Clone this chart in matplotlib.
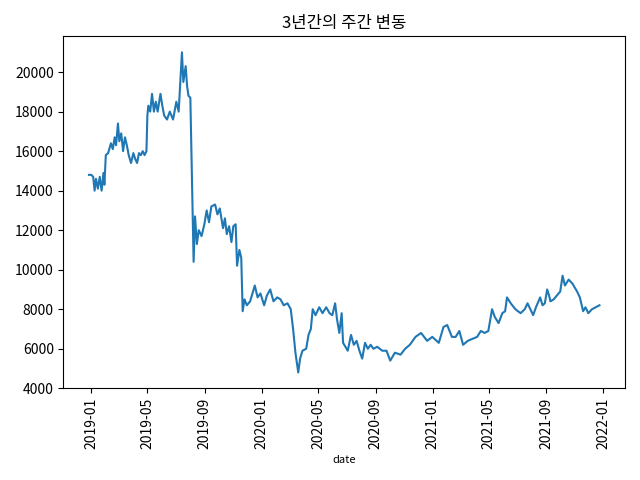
import matplotlib
matplotlib.use("Agg")
import matplotlib.pyplot as plt
import matplotlib.dates as mdates
import pandas as pd

plt.rcParams['font.family'] = ['Noto Sans CJK KR', 'DejaVu Sans']
plt.rcParams['axes.unicode_minus'] = False

# days since 2019-01-01 and closing price
day_offsets = [-5, 0, 4, 7, 10, 14, 18, 22, 26, 28, 31, 36, 42, 46, 50, 53, 57, 60, 64, 68, 72, 76, 80, 85, 90, 94, 98, 102, 106, 110, 114, 118,
120, 122, 126, 130, 134, 138, 142, 148, 152, 156, 162, 168, 175, 182, 187, 194, 197, 202, 205, 208, 212, 219, 222, 226, 230, 236, 242, 247, 252, 257, 265, 270, 275, 282, 286, 290, 295, 300, 304, 309, 312, 317, 321, 324, 328,
333, 340, 350, 356, 362, 370, 376, 383, 390, 398, 405, 412, 420, 427, 432, 437, 443, 447, 452, 460, 465, 470, 474, 480, 488, 495, 503, 510, 516, 522, 526, 531, 536, 539, 544, 549, 556, 562, 568, 574, 580, 586, 592, 598, 604, 612, 623, 632, 640, 650, 662, 672, 682, 694, 706, 719, 730, 744, 754, 762, 772, 780, 788, 796, 806, 816, 826, 834, 842, 850, 858, 864, 872, 880, 886, 890, 898, 908, 919, 928, 934, 940, 946, 952, 961, 966, 971, 976, 980, 983, 990, 1004, 1009, 1014, 1022, 1030, 1040, 1046, 1053, 1058, 1064, 1072, 1080, 1088]
prices = [14800, 14800, 14700, 14000, 14600, 14100, 14700, 14000, 14900, 14300, 15800, 15900, 16400, 16100, 16700, 16300, 17400, 16500, 16900, 16000, 16700, 16300, 15800, 15400, 15900, 15600, 15400, 15900, 15800, 16000, 15800, 16000,
17800, 18300, 18000, 18900, 18000, 18500, 18000, 18900, 18300, 17800, 17600, 18000, 17600, 18500, 18000, 21000, 19500, 20300, 19300, 18800, 18700, 10400, 12700, 11300, 12000, 11700, 12300, 13000, 12400, 13200, 13300, 12800, 13100, 12100, 12600, 11800, 12200, 11400, 12200, 12300, 10200, 11000, 10600, 7900, 8500,
8200, 8400, 9200, 8600, 8800, 8200, 8700, 9000, 8400, 8600, 8500, 8200, 8300, 8000, 7000, 5800, 4800, 5500, 5900, 6000, 6700, 7000, 8000, 7700, 8100, 7800, 8100, 7800, 7700, 8300, 7500, 6800, 7800, 6300, 6100, 5900, 6700, 6200, 6400, 5900, 5500, 6300, 6000, 6200, 6000, 6100, 5900, 5900, 5400, 5800, 5700, 6000, 6200, 6600, 6800, 6400, 6600, 6300, 7100, 7200, 6600, 6600, 6900, 6200, 6400, 6500, 6600, 6900, 6800, 6900, 8000, 7600, 7300, 7800, 7900, 8600, 8300, 8000, 7800, 8000, 8300, 8000, 7700, 8100, 8600, 8200, 8300, 9000, 8700, 8400, 8500, 8900, 9700, 9200, 9500, 9300, 8900, 8600, 7900, 8100, 7800, 8000, 8100, 8200]

dates = pd.Timestamp('2019-01-01') + pd.to_timedelta(day_offsets, unit='D')
s = pd.Series(prices, index=dates)

fig, ax = plt.subplots(figsize=(6.4, 4.8), dpi=100)
ax.plot(s.index, s.values, color='#1f77b4')
ax.set_title('3년간의 주간 변동')
ax.set_xlabel('date', fontsize=8)
ax.xaxis.set_major_locator(mdates.MonthLocator(bymonth=[1, 5, 9]))
ax.xaxis.set_major_formatter(mdates.DateFormatter('%Y-%m'))
ax.set_yticks(range(4000, 20001, 2000))
plt.setp(ax.get_xticklabels(), rotation=90)
fig.tight_layout()
fig.savefig('out.png')
